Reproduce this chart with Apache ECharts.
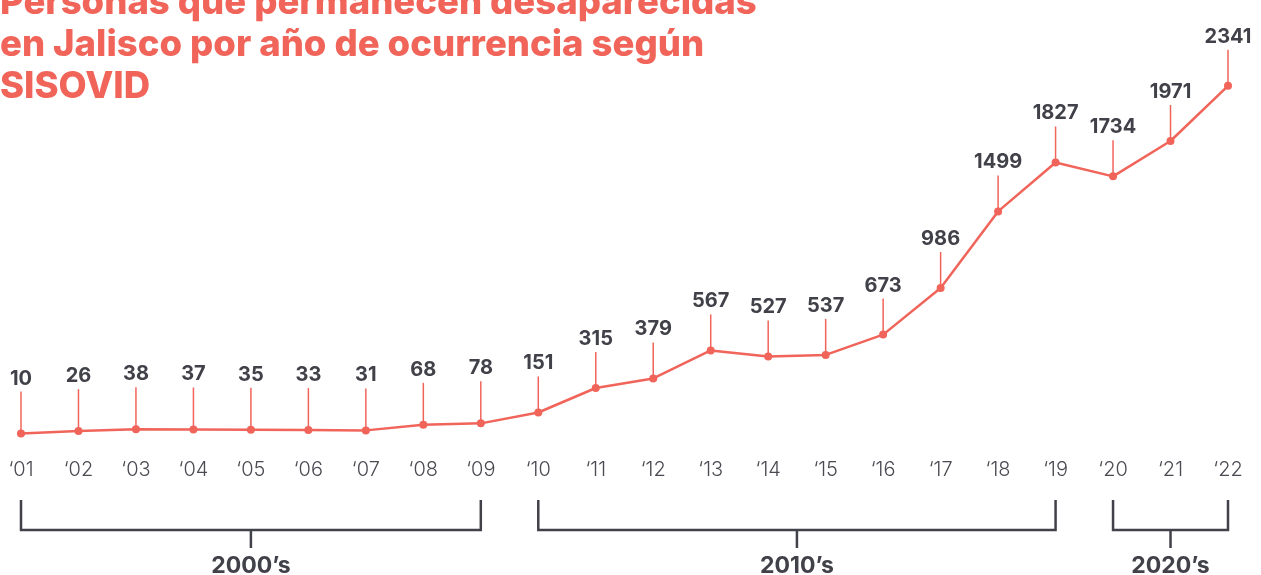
<!DOCTYPE html>
<html>
<head>
<meta charset="utf-8">
<script src="https://cdn.jsdelivr.net/npm/echarts@6/dist/echarts.min.js"></script>
<style>
  html, body { margin: 0; padding: 0; background: #fff; }
  #chart { width: 1261px; height: 575px; }
</style>
</head>
<body>
<div id="chart"></div>
<script>
// años (eje x) y personas desaparecidas por año
const years = ['‘01', '‘02', '‘03', '‘04', '‘05', '‘06', '‘07', '‘08', '‘09', '‘10', '‘11',
  '‘12', '‘13', '‘14', '‘15', '‘16', '‘17', '‘18', '‘19', '‘20', '‘21', '‘22'];
const values = [10, 26, 38, 37, 35, 33, 31, 68, 78, 151, 315, 379, 567, 527, 537, 673,
  986, 1499, 1827, 1734, 1971, 2341];

// décadas: etiqueta, índice inicial y final
const decades = ['2000’s', '2010’s', '2020’s'];
const decadeStart = [0, 9, 19];
const decadeEnd = [8, 18, 21];

const coral = '#f0645a';
const dark = '#414149';
const font = 'Inter, "Noto Sans", sans-serif';

var myChart = echarts.init(document.getElementById('chart'));

var option = {
  backgroundColor: '#fff',
  animation: false,
  graphic: [
    {
      type: 'text',
      left: 0,
      top: -18,
      style: {
        text: 'Personas que permanecen desaparecidas\nen Jalisco por año de ocurrencia según\nSISOVID',
        font: '800 36.5px ' + font,
        lineHeight: 42,
        fill: coral
      }
    }
  ],
  grid: {
    left: 21,
    right: 33,
    top: 77,
    bottom: 140
  },
  xAxis: {
    type: 'category',
    data: years,
    boundaryGap: false,
    axisLine: { show: false },
    axisTick: { show: false },
    axisLabel: {
      margin: 25,
      fontSize: 20,
      fontWeight: 300,
      fontFamily: font,
      color: '#4a4a52'
    }
  },
  yAxis: {
    type: 'value',
    min: 0,
    max: 2400,
    show: false,
    splitLine: { show: false }
  },
  series: [
    {
      // tallos y etiquetas de valor
      type: 'custom',
      clip: false,
      z: 1,
      data: values.map((v, i) => [i, v]),
      renderItem: function (params, api) {
        const p = api.coord([api.value(0), api.value(1)]);
        const len = api.value(1) < 100 ? 42 : 36;
        return {
          type: 'group',
          children: [
            {
              type: 'line',
              shape: { x1: p[0], y1: p[1], x2: p[0], y2: p[1] - len },
              style: { stroke: coral, lineWidth: 1.5 }
            },
            {
              type: 'text',
              x: p[0],
              y: p[1] - len - 3,
              style: {
                text: String(api.value(1)),
                align: 'center',
                verticalAlign: 'bottom',
                font: 'bold 20px ' + font,
                fill: dark
              }
            }
          ]
        };
      }
    },
    {
      type: 'line',
      data: values,
      clip: false,
      z: 3,
      symbol: 'circle',
      symbolSize: 8,
      lineStyle: { color: coral, width: 2.5 },
      itemStyle: { color: coral }
    },
    {
      // corchetes por década
      type: 'custom',
      clip: false,
      z: 1,
      data: decades.map((d, i) => [decadeStart[i], decadeEnd[i]]),
      encode: { x: [0, 1] },
      renderItem: function (params, api) {
        const a = api.coord([api.value(0), 0]);
        const b = api.coord([api.value(1), 0]);
        const base = a[1];
        const top = base + 65, bar = base + 95;
        const mid = (a[0] + b[0]) / 2;
        return {
          type: 'group',
          children: [
            {
              type: 'polyline',
              shape: { points: [[a[0], top], [a[0], bar], [b[0], bar], [b[0], top]] },
              style: { stroke: dark, lineWidth: 2.5, fill: null }
            },
            {
              type: 'line',
              shape: { x1: mid, y1: bar, x2: mid, y2: bar + 18 },
              style: { stroke: dark, lineWidth: 2.5 }
            },
            {
              type: 'text',
              x: mid,
              y: bar + 36,
              style: {
                text: decades[params.dataIndex],
                align: 'center',
                verticalAlign: 'middle',
                font: 'bold 23px ' + font,
                fill: dark
              }
            }
          ]
        };
      }
    }
  ]
};

myChart.setOption(option);
</script>
</body>
</html>
